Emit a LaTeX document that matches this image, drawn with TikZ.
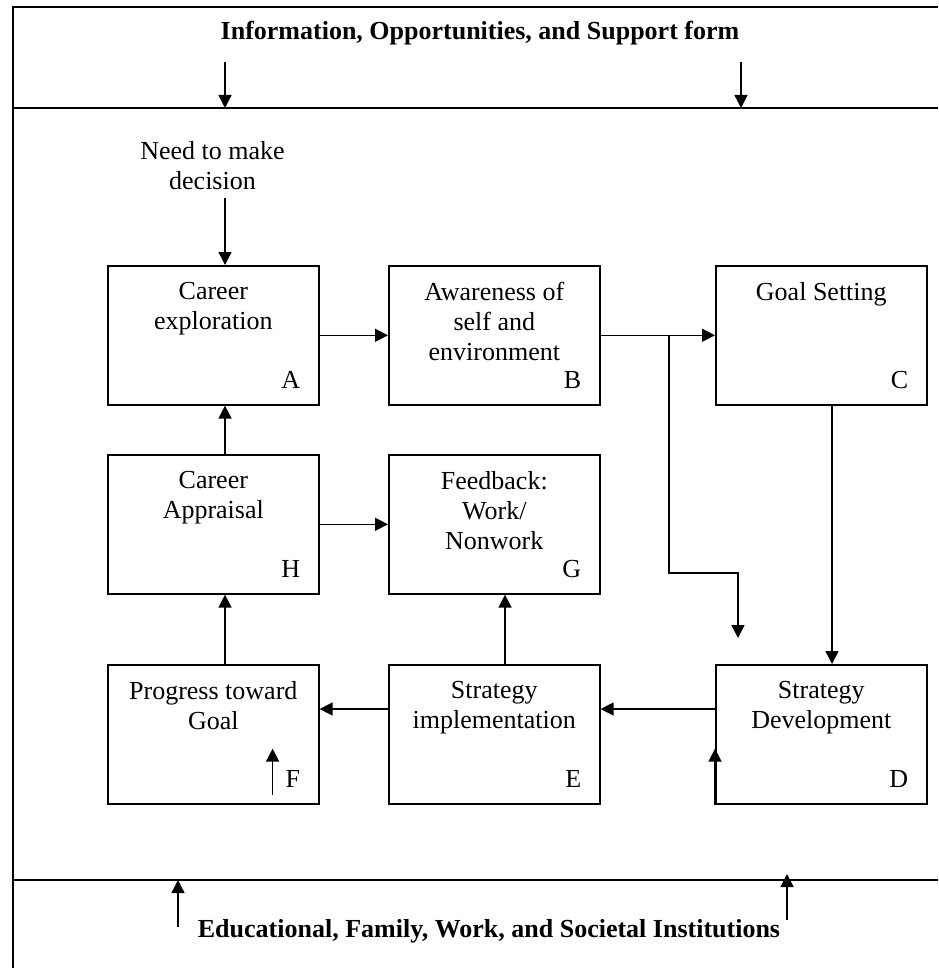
\documentclass[tikz,border=0pt]{standalone}
\usepackage{fontspec}
\setmainfont{Liberation Serif}
\usetikzlibrary{arrows.meta,calc}
\tikzset{
  stage/.style={draw, line width=0.8pt, minimum width=105.5pt, minimum height=69.5pt, anchor=north west, inner sep=0pt},
  txt/.style={align=center, inner sep=0pt, font=\fontsize{13}{15}\selectfont},
  head/.style={inner sep=0pt, font=\bfseries\fontsize{13}{15}\selectfont},
  arr/.style={-{Triangle[length=6.5pt,width=6.5pt]}, line width=0.7pt},
  frame/.style={line width=1pt}
}
\begin{document}
\begin{tikzpicture}[x=0.5pt,y=-0.5pt]
		\useasboundingbox (0,0) rectangle (938,968);
		\draw[frame] (938,7) -- (13,7) -- (13,968);
		\draw[frame] (13,108) -- (938,108);
		\draw[frame] (13,880) -- (938,880);
		\coordinate (band) at (0,108);
		\coordinate (base) at (0,880);
		\node[head, anchor=base] (info) at (480,40) {Information, Opportunities, and Support form};
		\node[head, anchor=base] (inst) at (489,937) {Educational, Family, Work, and Societal Institutions};
		\node[stage] (A) at (107,265) {};
		\node[stage] (B) at (388,265) {};
		\node[stage] (C) at (715,265) {};
		\node[stage] (H) at (107,454) {};
		\node[stage] (G) at (388,454) {};
		\node[stage] (F) at (107,664) {};
		\node[stage] (E) at (388,664) {};
		\node[stage] (D) at (715,664) {};
		\node[txt, anchor=north] at ($(A.north)+(0,17)$) {Career\\exploration};
		\node[txt, anchor=north] at ($(B.north)+(0,17)$) {Awareness of\\self and\\environment};
		\node[txt, anchor=north] at ($(C.north)+(0,17)$) {Goal Setting};
		\node[txt, anchor=north] at ($(H.north)+(0,17)$) {Career\\Appraisal};
		\node[txt, anchor=north] at ($(G.north)+(0,17)$) {Feedback:\\Work/\\Nonwork};
		\node[txt, anchor=north] at ($(F.north)+(0,17)$) {Progress toward\\Goal};
		\node[txt, anchor=north] at ($(E.north)+(0,17)$) {Strategy\\implementation};
		\node[txt, anchor=north] at ($(D.north)+(0,17)$) {Strategy\\Development};
		\foreach \s in {A,B,C,H,G,F,E,D}
			\node[txt, anchor=base east] at ($(\s.south east)+(-19,-17)$) {\s};
		\node[txt, anchor=north, inner ysep=4pt] (need) at (212.5,133) {Need to make\\decision};
		\coordinate (colL) at (225,0);
		\coordinate (colM) at (505,0);
		\coordinate (colR) at (832,0);
		\coordinate (rowE) at (0,709);
		\coordinate (fork) at (669,0);
		\coordinate (bend) at (738,573);
		\coordinate (drop) at (738,638);
		\draw[arr] (225,62) -- (225,62 |- band);
		\draw[arr] (741,62) -- (741,62 |- band);
		\draw[arr] (178,927) -- (178,927 |- base);
		\draw[arr] (787,920) -- (787,874);
		\draw[arr] (need.south -| colL) -- (A.north -| colL);
		\draw[arr] (A.east) -- (B.west);
		\draw[arr] (B.east) -- (C.west);
		\draw[arr] (B.east -| fork) |- (bend) -- (drop);
		\draw[arr] (C.south -| colR) -- (D.north -| colR);
		\draw[arr] (D.west |- rowE) -- (E.east |- rowE);
		\draw[arr] (E.west |- rowE) -- (F.east |- rowE);
		\draw[arr] (E.north -| colM) -- (G.south -| colM);
		\draw[arr] (F.north -| colL) -- (H.south -| colL);
		\draw[arr] (H.north -| colL) -- (A.south -| colL);
		\draw[arr] (H.east) -- (G.west);
		\draw[arr] ($(F.south east)+(-47,-10)$) -- ++(0,-46);
		\draw[arr] (D.south west) -- ++(0,-56);
	\end{tikzpicture}
\end{document}
